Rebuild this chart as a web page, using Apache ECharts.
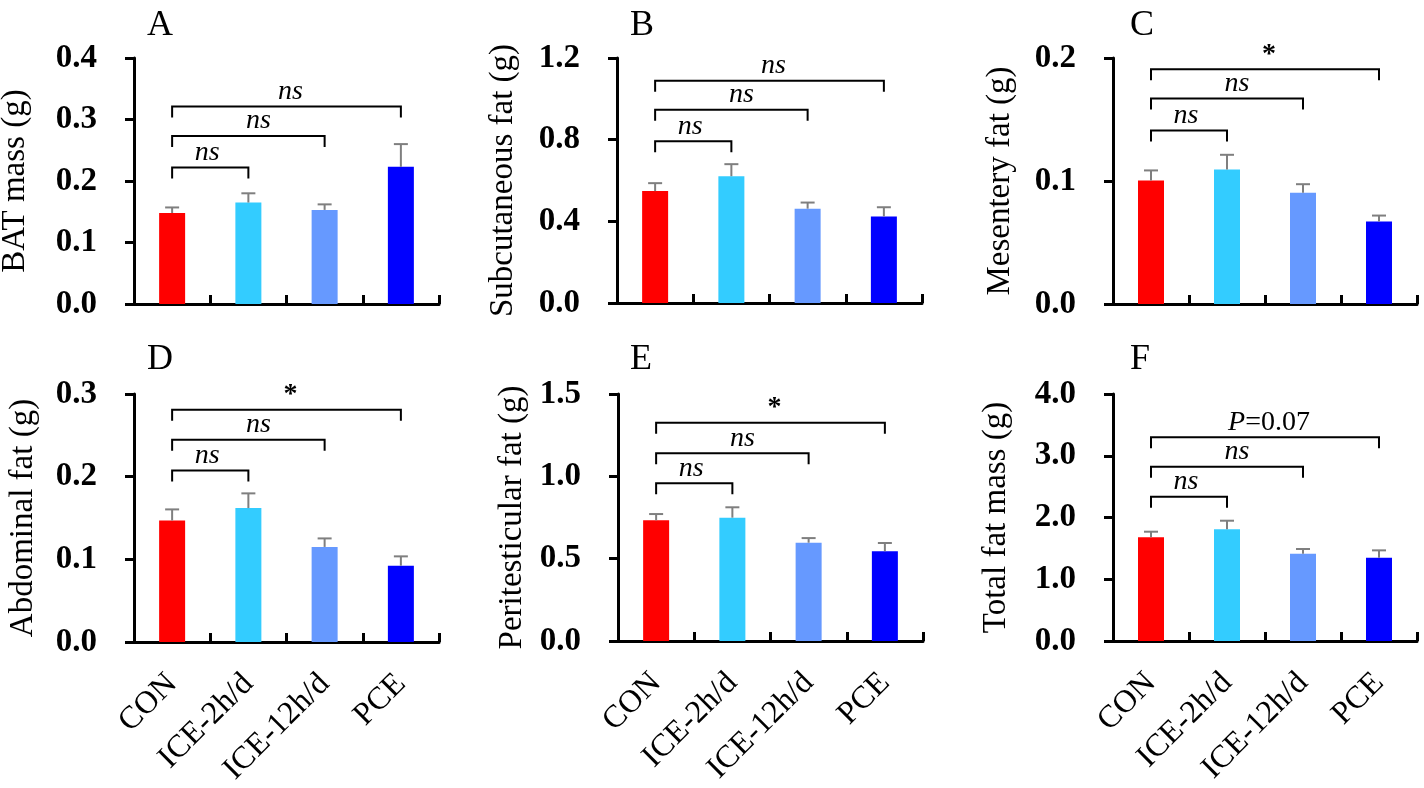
<!DOCTYPE html>
<html>
<head>
<meta charset="utf-8">
<script src="https://cdn.jsdelivr.net/npm/echarts@6/dist/echarts.min.js"></script>
<style>
html,body{margin:0;padding:0;background:#fff;}
#chart{width:1424px;height:788px;}
</style>
</head>
<body>
<div id="chart"></div>
<script>
// ---------- data ----------
const categories = ['CON', 'ICE-2h/d', 'ICE-12h/d', 'PCE'];
const barColors = ['#FF0000', '#33CCFF', '#6699FF', '#0000FF'];
const bracketPairs = [[0, 1], [0, 2], [0, 3]];

const panelLetters = ['A', 'B', 'C', 'D', 'E', 'F'];
const axisNames = ['BAT mass (g)', 'Subcutaneous fat (g)', 'Mesentery fat (g)',
                   'Abdominal fat (g)', 'Peritesticular fat (g)', 'Total fat mass (g)'];

const ticksA = ['0.0', '0.1', '0.2', '0.3', '0.4'];
const ticksB = ['0.0', '0.4', '0.8', '1.2'];
const ticksC = ['0.0', '0.1', '0.2'];
const ticksD = ['0.0', '0.1', '0.2', '0.3'];
const ticksE = ['0.0', '0.5', '1.0', '1.5'];
const ticksF = ['0.0', '1.0', '2.0', '3.0', '4.0'];

const meanA = [0.148, 0.165, 0.153, 0.223];
const semA  = [0.009, 0.015, 0.009, 0.037];
const meanB = [0.548, 0.621, 0.462, 0.424];
const semB  = [0.039, 0.059, 0.030, 0.045];
const meanC = [0.1004, 0.1094, 0.0904, 0.0670];
const semC  = [0.0082, 0.0119, 0.0070, 0.0049];
const meanD = [0.147, 0.162, 0.115, 0.0923];
const semD  = [0.0134, 0.0178, 0.0103, 0.0113];
const meanE = [0.733, 0.749, 0.597, 0.545];
const semE  = [0.038, 0.063, 0.028, 0.050];
const meanF = [1.679, 1.809, 1.414, 1.349];
const semF  = [0.091, 0.139, 0.076, 0.119];

const bracketA = [0.222, 0.273, 0.321];
const bracketB = [0.792, 0.947, 1.089];
const bracketC = [0.1411, 0.167, 0.1908];
const bracketD = [0.2076, 0.2447, 0.281];
const bracketE = [0.958, 1.14, 1.326];
const bracketF = [2.337, 2.823, 3.298];

const sigA = ['ns', 'ns', 'ns'];
const sigB = ['ns', 'ns', 'ns'];
const sigC = ['ns', 'ns', '*'];
const sigD = ['ns', 'ns', '*'];
const sigE = ['ns', 'ns', '*'];
const sigF = ['ns', 'ns', 'P=0.07'];

// ---------- layout ----------
const FONT = '"Liberation Serif", "Times New Roman", Times, serif';
const gridRects = [
  {left: 134, top: 58, width: 305, height: 246},
  {left: 617, top: 58, width: 305, height: 245},
  {left: 1113, top: 58, width: 304, height: 246},
  {left: 134, top: 394, width: 305, height: 248},
  {left: 618, top: 394, width: 305, height: 247},
  {left: 1113, top: 394, width: 304, height: 247}
];
const nameGaps = [102, 97, 96, 94, 89, 100];
const letterPos = [[147, 8], [630, 8], [1130, 8], [147, 342], [630, 342], [1130, 342]];
const labelShift = [-3, 10, 4];

const panels = [
  {ticks: ticksA, mean: meanA, sem: semA, br: bracketA, sig: sigA},
  {ticks: ticksB, mean: meanB, sem: semB, br: bracketB, sig: sigB},
  {ticks: ticksC, mean: meanC, sem: semC, br: bracketC, sig: sigC},
  {ticks: ticksD, mean: meanD, sem: semD, br: bracketD, sig: sigD},
  {ticks: ticksE, mean: meanE, sem: semE, br: bracketE, sig: sigE},
  {ticks: ticksF, mean: meanF, sem: semF, br: bracketF, sig: sigF}
];

const chart = echarts.init(document.getElementById('chart'), null, {renderer: 'canvas'});

const grid = [], xAxis = [], yAxis = [], series = [], title = [];

panels.forEach((p, i) => {
  grid.push(Object.assign({outerBoundsMode: 'none', containLabel: false}, gridRects[i]));
  const interval = parseFloat(p.ticks[1]);
  const max = parseFloat(p.ticks[p.ticks.length - 1]);
  const bottomRow = i >= 3;
  xAxis.push({
    gridIndex: i, type: 'category', data: categories,
    boundaryGap: true,
    axisLine: {show: true, lineStyle: {color: '#000', width: 3}},
    axisTick: {show: true, inside: true, length: 9, alignWithLabel: false, interval: 0,
               lineStyle: {color: '#000', width: 3}},
    axisLabel: {show: bottomRow, rotate: 45, margin: 37, interval: 0,
                fontFamily: FONT, fontSize: 32, color: '#000'},
    splitLine: {show: false}
  });
  yAxis.push({
    gridIndex: i, type: 'value', min: 0, max: max, interval: interval,
    name: axisNames[i], nameLocation: 'middle', nameGap: nameGaps[i],
    nameTextStyle: {fontFamily: FONT, fontSize: 33, color: '#000'},
    axisLine: {show: true, lineStyle: {color: '#000', width: 3}},
    axisTick: {show: true, inside: false, length: 9, lineStyle: {color: '#000', width: 3}},
    axisLabel: {margin: 37, fontFamily: FONT, fontSize: 33, fontWeight: 'bold', color: '#000',
                formatter: v => p.ticks[Math.round(v / interval)]},
    splitLine: {show: false}
  });
  series.push({
    type: 'bar', xAxisIndex: i, yAxisIndex: i, barWidth: 26,
    data: p.mean.map((v, k) => ({value: v, itemStyle: {color: barColors[k]}})),
    z: 2
  });
  series.push({
    type: 'custom', xAxisIndex: i, yAxisIndex: i, z: 3,
    encode: {x: 0, y: 1},
    data: p.mean.map((m, k) => [k, m, p.sem[k]]),
    renderItem: (params, api) => {
      const x = api.value(0), m = api.value(1), e = api.value(2);
      const p0 = api.coord([x, m]);
      const p1 = api.coord([x, m + e]);
      const st = {stroke: '#7f7f7f', lineWidth: 2};
      return {type: 'group', children: [
        {type: 'line', shape: {x1: p0[0], y1: p0[1], x2: p1[0], y2: p1[1]}, style: st},
        {type: 'line', shape: {x1: p1[0] - 7, y1: p1[1], x2: p1[0] + 7, y2: p1[1]}, style: st}
      ]};
    }
  });
  series.push({
    type: 'custom', xAxisIndex: i, yAxisIndex: i, z: 4,
    encode: {x: 0, y: 2},
    data: bracketPairs.map((pr, k) => [pr[0], pr[1], p.br[k], k]),
    renderItem: (params, api) => {
      const a = api.value(0), b = api.value(1), lvl = api.value(2), k = api.value(3);
      const pa = api.coord([a, lvl]);
      const pb = api.coord([b, lvl]);
      const y = pa[1];
      const leg = 11;
      const txt = p.sig[k];
      const cx = (pa[0] + pb[0]) / 2 + labelShift[k];
      let textStyle;
      if (txt.indexOf('P=') === 0) {
        textStyle = {text: '{i|P}' + txt.slice(1), fill: '#000', fontFamily: FONT, fontSize: 28,
                     align: 'center', verticalAlign: 'bottom',
                     rich: {i: {fontFamily: FONT, fontSize: 28, fontStyle: 'italic', fill: '#000'}}};
      } else if (txt === '*') {
        textStyle = {text: txt, fill: '#000', fontFamily: FONT, fontSize: 28, fontWeight: 'bold',
                     align: 'center', verticalAlign: 'bottom'};
      } else {
        textStyle = {text: txt, fill: '#000', fontFamily: FONT, fontSize: 28, fontStyle: 'italic',
                     align: 'center', verticalAlign: 'bottom'};
      }
      return {type: 'group', children: [
        {type: 'polyline',
         shape: {points: [[pa[0], y + leg], [pa[0], y], [pb[0], y], [pb[0], y + leg]]},
         style: {stroke: '#000', lineWidth: 2, fill: null}},
        {type: 'text', x: cx, y: y - 1, style: textStyle}
      ]};
    }
  });
  title.push({
    text: panelLetters[i], left: letterPos[i][0], top: letterPos[i][1], padding: 0,
    textStyle: {fontFamily: FONT, fontSize: 36, fontWeight: 'normal', color: '#000'}
  });
});

chart.setOption({
  animation: false,
  backgroundColor: '#fff',
  title: title,
  grid: grid,
  xAxis: xAxis,
  yAxis: yAxis,
  series: series
});
</script>
</body>
</html>
